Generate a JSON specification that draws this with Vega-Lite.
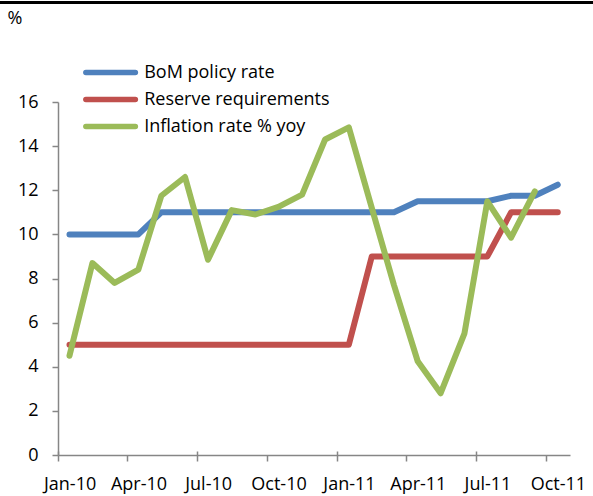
{
  "$schema": "https://vega.github.io/schema/vega-lite/v6.json",
  "width": 512,
  "height": 353,
  "autosize": {"type": "none"},
  "padding": {"left": 58, "top": 102, "right": 23, "bottom": 41},
  "background": "white",
  "config": {"view": {"stroke": null}, "font": "Open Sans"},
  "resolve": {"axis": {"x": "independent"}},
  "layer": [
    {
      "data": {
        "values": [
          {"date": "2010-01-16", "series": "BoM policy rate", "value": 10},
          {"date": "2010-02-15", "series": "BoM policy rate", "value": 10},
          {"date": "2010-03-16", "series": "BoM policy rate", "value": 10},
          {"date": "2010-04-16", "series": "BoM policy rate", "value": 10},
          {"date": "2010-05-16", "series": "BoM policy rate", "value": 11},
          {"date": "2010-06-16", "series": "BoM policy rate", "value": 11},
          {"date": "2010-07-16", "series": "BoM policy rate", "value": 11},
          {"date": "2010-08-16", "series": "BoM policy rate", "value": 11},
          {"date": "2010-09-16", "series": "BoM policy rate", "value": 11},
          {"date": "2010-10-16", "series": "BoM policy rate", "value": 11},
          {"date": "2010-11-16", "series": "BoM policy rate", "value": 11},
          {"date": "2010-12-16", "series": "BoM policy rate", "value": 11},
          {"date": "2011-01-16", "series": "BoM policy rate", "value": 11},
          {"date": "2011-02-15", "series": "BoM policy rate", "value": 11},
          {"date": "2011-03-16", "series": "BoM policy rate", "value": 11},
          {"date": "2011-04-16", "series": "BoM policy rate", "value": 11.5},
          {"date": "2011-05-16", "series": "BoM policy rate", "value": 11.5},
          {"date": "2011-06-16", "series": "BoM policy rate", "value": 11.5},
          {"date": "2011-07-16", "series": "BoM policy rate", "value": 11.5},
          {"date": "2011-08-16", "series": "BoM policy rate", "value": 11.75},
          {"date": "2011-09-16", "series": "BoM policy rate", "value": 11.75},
          {"date": "2011-10-16", "series": "BoM policy rate", "value": 12.25},
          {"date": "2010-01-16", "series": "Reserve requirements", "value": 5},
          {"date": "2010-02-15", "series": "Reserve requirements", "value": 5},
          {"date": "2010-03-16", "series": "Reserve requirements", "value": 5},
          {"date": "2010-04-16", "series": "Reserve requirements", "value": 5},
          {"date": "2010-05-16", "series": "Reserve requirements", "value": 5},
          {"date": "2010-06-16", "series": "Reserve requirements", "value": 5},
          {"date": "2010-07-16", "series": "Reserve requirements", "value": 5},
          {"date": "2010-08-16", "series": "Reserve requirements", "value": 5},
          {"date": "2010-09-16", "series": "Reserve requirements", "value": 5},
          {"date": "2010-10-16", "series": "Reserve requirements", "value": 5},
          {"date": "2010-11-16", "series": "Reserve requirements", "value": 5},
          {"date": "2010-12-16", "series": "Reserve requirements", "value": 5},
          {"date": "2011-01-16", "series": "Reserve requirements", "value": 5},
          {"date": "2011-02-15", "series": "Reserve requirements", "value": 9},
          {"date": "2011-03-16", "series": "Reserve requirements", "value": 9},
          {"date": "2011-04-16", "series": "Reserve requirements", "value": 9},
          {"date": "2011-05-16", "series": "Reserve requirements", "value": 9},
          {"date": "2011-06-16", "series": "Reserve requirements", "value": 9},
          {"date": "2011-07-16", "series": "Reserve requirements", "value": 9},
          {"date": "2011-08-16", "series": "Reserve requirements", "value": 11},
          {"date": "2011-09-16", "series": "Reserve requirements", "value": 11},
          {"date": "2011-10-16", "series": "Reserve requirements", "value": 11},
          {"date": "2010-01-16", "series": "Inflation rate % yoy", "value": 4.5},
          {"date": "2010-02-15", "series": "Inflation rate % yoy", "value": 8.7},
          {"date": "2010-03-16", "series": "Inflation rate % yoy", "value": 7.8},
          {"date": "2010-04-16", "series": "Inflation rate % yoy", "value": 8.4},
          {"date": "2010-05-16", "series": "Inflation rate % yoy", "value": 11.75},
          {"date": "2010-06-16", "series": "Inflation rate % yoy", "value": 12.6},
          {"date": "2010-07-16", "series": "Inflation rate % yoy", "value": 8.85},
          {"date": "2010-08-16", "series": "Inflation rate % yoy", "value": 11.1},
          {"date": "2010-09-16", "series": "Inflation rate % yoy", "value": 10.9},
          {"date": "2010-10-16", "series": "Inflation rate % yoy", "value": 11.25},
          {"date": "2010-11-16", "series": "Inflation rate % yoy", "value": 11.8},
          {"date": "2010-12-16", "series": "Inflation rate % yoy", "value": 14.3},
          {"date": "2011-01-16", "series": "Inflation rate % yoy", "value": 14.85},
          {"date": "2011-02-15", "series": "Inflation rate % yoy", "value": 11.2},
          {"date": "2011-03-16", "series": "Inflation rate % yoy", "value": 7.7},
          {"date": "2011-04-16", "series": "Inflation rate % yoy", "value": 4.25},
          {"date": "2011-05-16", "series": "Inflation rate % yoy", "value": 2.8},
          {"date": "2011-06-16", "series": "Inflation rate % yoy", "value": 5.5},
          {"date": "2011-07-16", "series": "Inflation rate % yoy", "value": 11.5},
          {"date": "2011-08-16", "series": "Inflation rate % yoy", "value": 9.85},
          {"date": "2011-09-16", "series": "Inflation rate % yoy", "value": 11.95}
        ]
      },
      "mark": {"type": "line", "strokeWidth": 6, "strokeCap": "round", "strokeJoin": "round"},
      "encoding": {
        "x": {
          "field": "date",
          "type": "temporal",
          "scale": {
            "type": "utc",
            "domain": [
              {"year": 2010, "month": 1, "date": 1, "utc": true},
              {"year": 2011, "month": 11, "date": 1, "utc": true}
            ]
          },
          "axis": {
            "orient": "bottom",
            "values": [
              {"year": 2010, "month": 1, "date": 1, "utc": true},
              {"year": 2010, "month": 4, "date": 1, "utc": true},
              {"year": 2010, "month": 7, "date": 1, "utc": true},
              {"year": 2010, "month": 10, "date": 1, "utc": true},
              {"year": 2011, "month": 1, "date": 1, "utc": true},
              {"year": 2011, "month": 4, "date": 1, "utc": true},
              {"year": 2011, "month": 7, "date": 1, "utc": true},
              {"year": 2011, "month": 10, "date": 1, "utc": true}
            ],
            "format": "%b-%y",
            "title": null,
            "grid": false,
            "domainColor": "#868686",
            "domainWidth": 1.5,
            "tickColor": "#868686",
            "tickWidth": 1.5,
            "tickSize": 6,
            "labelOffset": 11.6,
            "labelPadding": 14,
            "labelFontSize": 18,
            "labelColor": "#000000",
            "labelFont": "Open Sans",
            "labelFlush": false,
            "labelOverlap": false
          }
        },
        "y": {
          "field": "value",
          "type": "quantitative",
          "scale": {"domain": [0, 16], "nice": false},
          "axis": {
            "values": [0, 2, 4, 6, 8, 10, 12, 14, 16],
            "title": null,
            "grid": false,
            "domainColor": "#868686",
            "domainWidth": 1.5,
            "tickColor": "#868686",
            "tickWidth": 1.5,
            "tickSize": 6,
            "labelPadding": 14,
            "labelFontSize": 18,
            "labelColor": "#000000",
            "labelFont": "Open Sans"
          }
        },
        "color": {
          "field": "series",
          "type": "nominal",
          "scale": {
            "domain": ["BoM policy rate", "Reserve requirements", "Inflation rate % yoy"],
            "range": ["#4F81BD", "#C0504D", "#9BBB59"]
          },
          "legend": {
            "orient": "none",
            "legendX": 39.6,
            "legendY": -42.5,
            "title": null,
            "padding": 0,
            "symbolType": "M-2.5,0H2.5",
            "symbolSize": 392,
            "symbolStrokeWidth": 5.5,
            "labelFontSize": 18,
            "labelFont": "Open Sans",
            "labelColor": "#000000",
            "labelOffset": 20.6,
            "rowPadding": 3,
            "labelLimit": 400,
            "encode": {"symbols": {"update": {"strokeCap": {"value": "round"}}}}
          }
        }
      }
    },
    {
      "data": {"values": [{"label": "top"}]},
      "mark": {"type": "rule", "color": "#000000", "strokeWidth": 3},
      "encoding": {
        "x": {"datum": {"year": 2009, "month": 10, "date": 17, "utc": true}, "type": "temporal", "axis": null},
        "x2": {"datum": {"year": 2011, "month": 12, "date": 2, "utc": true}},
        "y": {"datum": 20.51, "type": "quantitative"}
      }
    },
    {
      "data": {"values": [{"label": "%"}]},
      "mark": {"type": "text", "align": "left", "baseline": "alphabetic", "fontSize": 18, "font": "Open Sans", "color": "#000000"},
      "encoding": {
        "text": {"field": "label"},
        "x": {
          "datum": {"year": 2009, "month": 10, "date": 27, "utc": true},
          "type": "temporal",
          "axis": {
            "orient": "bottom",
            "values": [
              {"year": 2010, "month": 1, "date": 1, "utc": true},
              {"year": 2010, "month": 7, "date": 1, "utc": true},
              {"year": 2011, "month": 1, "date": 1, "utc": true},
              {"year": 2011, "month": 7, "date": 1, "utc": true}
            ],
            "title": null,
            "labels": false,
            "domain": false,
            "grid": false,
            "tickColor": "#868686",
            "tickWidth": 1.5,
            "tickSize": -4
          }
        },
        "y": {"datum": 19.55, "type": "quantitative"}
      }
    }
  ]
}
